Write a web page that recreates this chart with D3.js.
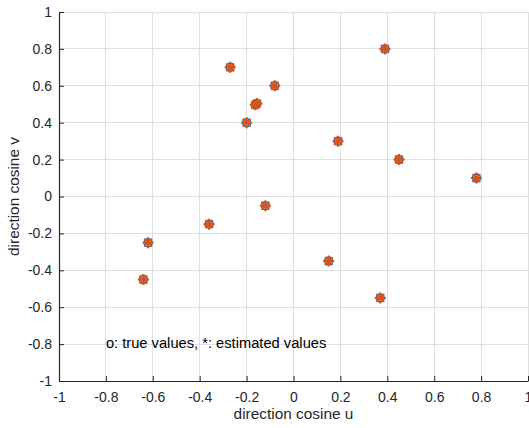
<!DOCTYPE html>
<html>
<head>
<meta charset="utf-8">
<script src="https://cdn.jsdelivr.net/npm/d3@7"></script>
<style>
  html, body { margin: 0; padding: 0; background: #fff; }
  svg { display: block; font-family: "Liberation Sans", Arial, Helvetica, sans-serif; }
</style>
</head>
<body>
<svg id="chart" width="529" height="428"></svg>
<script>
// Direction cosines (u, v) of the sources
const uTrue = [0.39, -0.27, -0.08, -0.163, -0.156, -0.20, 0.19, 0.45, 0.78, -0.12, -0.36, -0.62, -0.64, 0.15, 0.37];
const vTrue = [0.80, 0.70, 0.60, 0.497, 0.504, 0.40, 0.30, 0.20, 0.10, -0.05, -0.15, -0.25, -0.45, -0.35, -0.55];
const uEst  = [0.39, -0.27, -0.08, -0.163, -0.156, -0.20, 0.19, 0.45, 0.78, -0.12, -0.36, -0.62, -0.64, 0.15, 0.37];
const vEst  = [0.80, 0.70, 0.60, 0.497, 0.504, 0.40, 0.30, 0.20, 0.10, -0.05, -0.15, -0.25, -0.45, -0.35, -0.55];
const xTicks = [-1, -0.8, -0.6, -0.4, -0.2, 0, 0.2, 0.4, 0.6, 0.8, 1];
const yTicks = [-1, -0.8, -0.6, -0.4, -0.2, 0, 0.2, 0.4, 0.6, 0.8, 1];

const svg = d3.select("#chart");
const plotL = 59, plotR = 528, plotT = 12, plotB = 381;
const x = d3.scaleLinear().domain([-1, 1]).range([plotL, plotR]);
const y = d3.scaleLinear().domain([-1, 1]).range([plotB, plotT]);

const gridColor = "#dfdfdf";
const axisColor = "#262626";

// grid
const grid = svg.append("g");
grid.selectAll(".gx").data(xTicks).join("line")
  .attr("x1", d => x(d)).attr("x2", d => x(d))
  .attr("y1", plotT).attr("y2", plotB)
  .attr("stroke", gridColor).attr("stroke-width", 1).attr("shape-rendering", "crispEdges");
grid.selectAll(".gy").data(yTicks).join("line")
  .attr("x1", plotL).attr("x2", plotR)
  .attr("y1", d => y(d)).attr("y2", d => y(d))
  .attr("stroke", gridColor).attr("stroke-width", 1).attr("shape-rendering", "crispEdges");

// axes
const fmt = d => d3.format("")(d).replace("\u2212", "-");
const xAxis = d3.axisBottom(x).tickValues(xTicks).tickFormat(fmt).tickSizeInner(-5).tickSizeOuter(0).tickPadding(8);
const yAxis = d3.axisLeft(y).tickValues(yTicks).tickFormat(fmt).tickSizeInner(-5).tickSizeOuter(0).tickPadding(7);

const gx = svg.append("g").attr("transform", `translate(0,${plotB})`).call(xAxis);
const gy = svg.append("g").attr("transform", `translate(${plotL},0)`).call(yAxis);
[gx, gy].forEach(g => {
  g.select(".domain").attr("stroke", axisColor).attr("stroke-width", 1.2);
  g.selectAll(".tick line").attr("stroke", axisColor).attr("stroke-width", 1);
  g.selectAll(".tick text").attr("fill", axisColor).attr("font-size", 14)
    .attr("font-family", "Liberation Sans, Arial, sans-serif");
});
gx.selectAll(".tick text").attr("dy", "0.9em");

// axis labels
svg.append("text")
  .attr("x", (plotL + plotR) / 2).attr("y", 419)
  .attr("text-anchor", "middle").attr("fill", axisColor).attr("font-size", 15.4)
  .text("direction cosine u");
svg.append("text")
  .attr("transform", `translate(19,${(plotT + plotB) / 2}) rotate(-90)`)
  .attr("text-anchor", "middle").attr("fill", axisColor).attr("font-size", 15.4)
  .text("direction cosine v");

// true values: circles
const trueData = uTrue.map((u, i) => ({ u, v: vTrue[i] }));
svg.append("g").selectAll("circle").data(trueData).join("circle")
  .attr("cx", d => x(d.u)).attr("cy", d => y(d.v)).attr("r", 4)
  .attr("fill", "none").attr("stroke", "#0072BD").attr("stroke-width", 1.5);

// estimated values: asterisks
const estData = uEst.map((u, i) => ({ u, v: vEst[i] }));
const s = 5.5, sd = 3.9;
const starPath = `M${-s},0L${s},0M0,${-s}L0,${s}M${-sd},${-sd}L${sd},${sd}M${-sd},${sd}L${sd},${-sd}`;
svg.append("g").selectAll("path").data(estData).join("path")
  .attr("transform", d => `translate(${x(d.u)},${y(d.v)})`)
  .attr("d", starPath)
  .attr("fill", "none").attr("stroke", "#D95319").attr("stroke-width", 2);

// annotation
svg.append("text")
  .attr("x", x(-0.8)).attr("y", y(-0.8))
  .attr("dominant-baseline", "middle").attr("fill", "#000").attr("font-size", 14.7)
  .text("o: true values, *: estimated values");
</script>
</body>
</html>
